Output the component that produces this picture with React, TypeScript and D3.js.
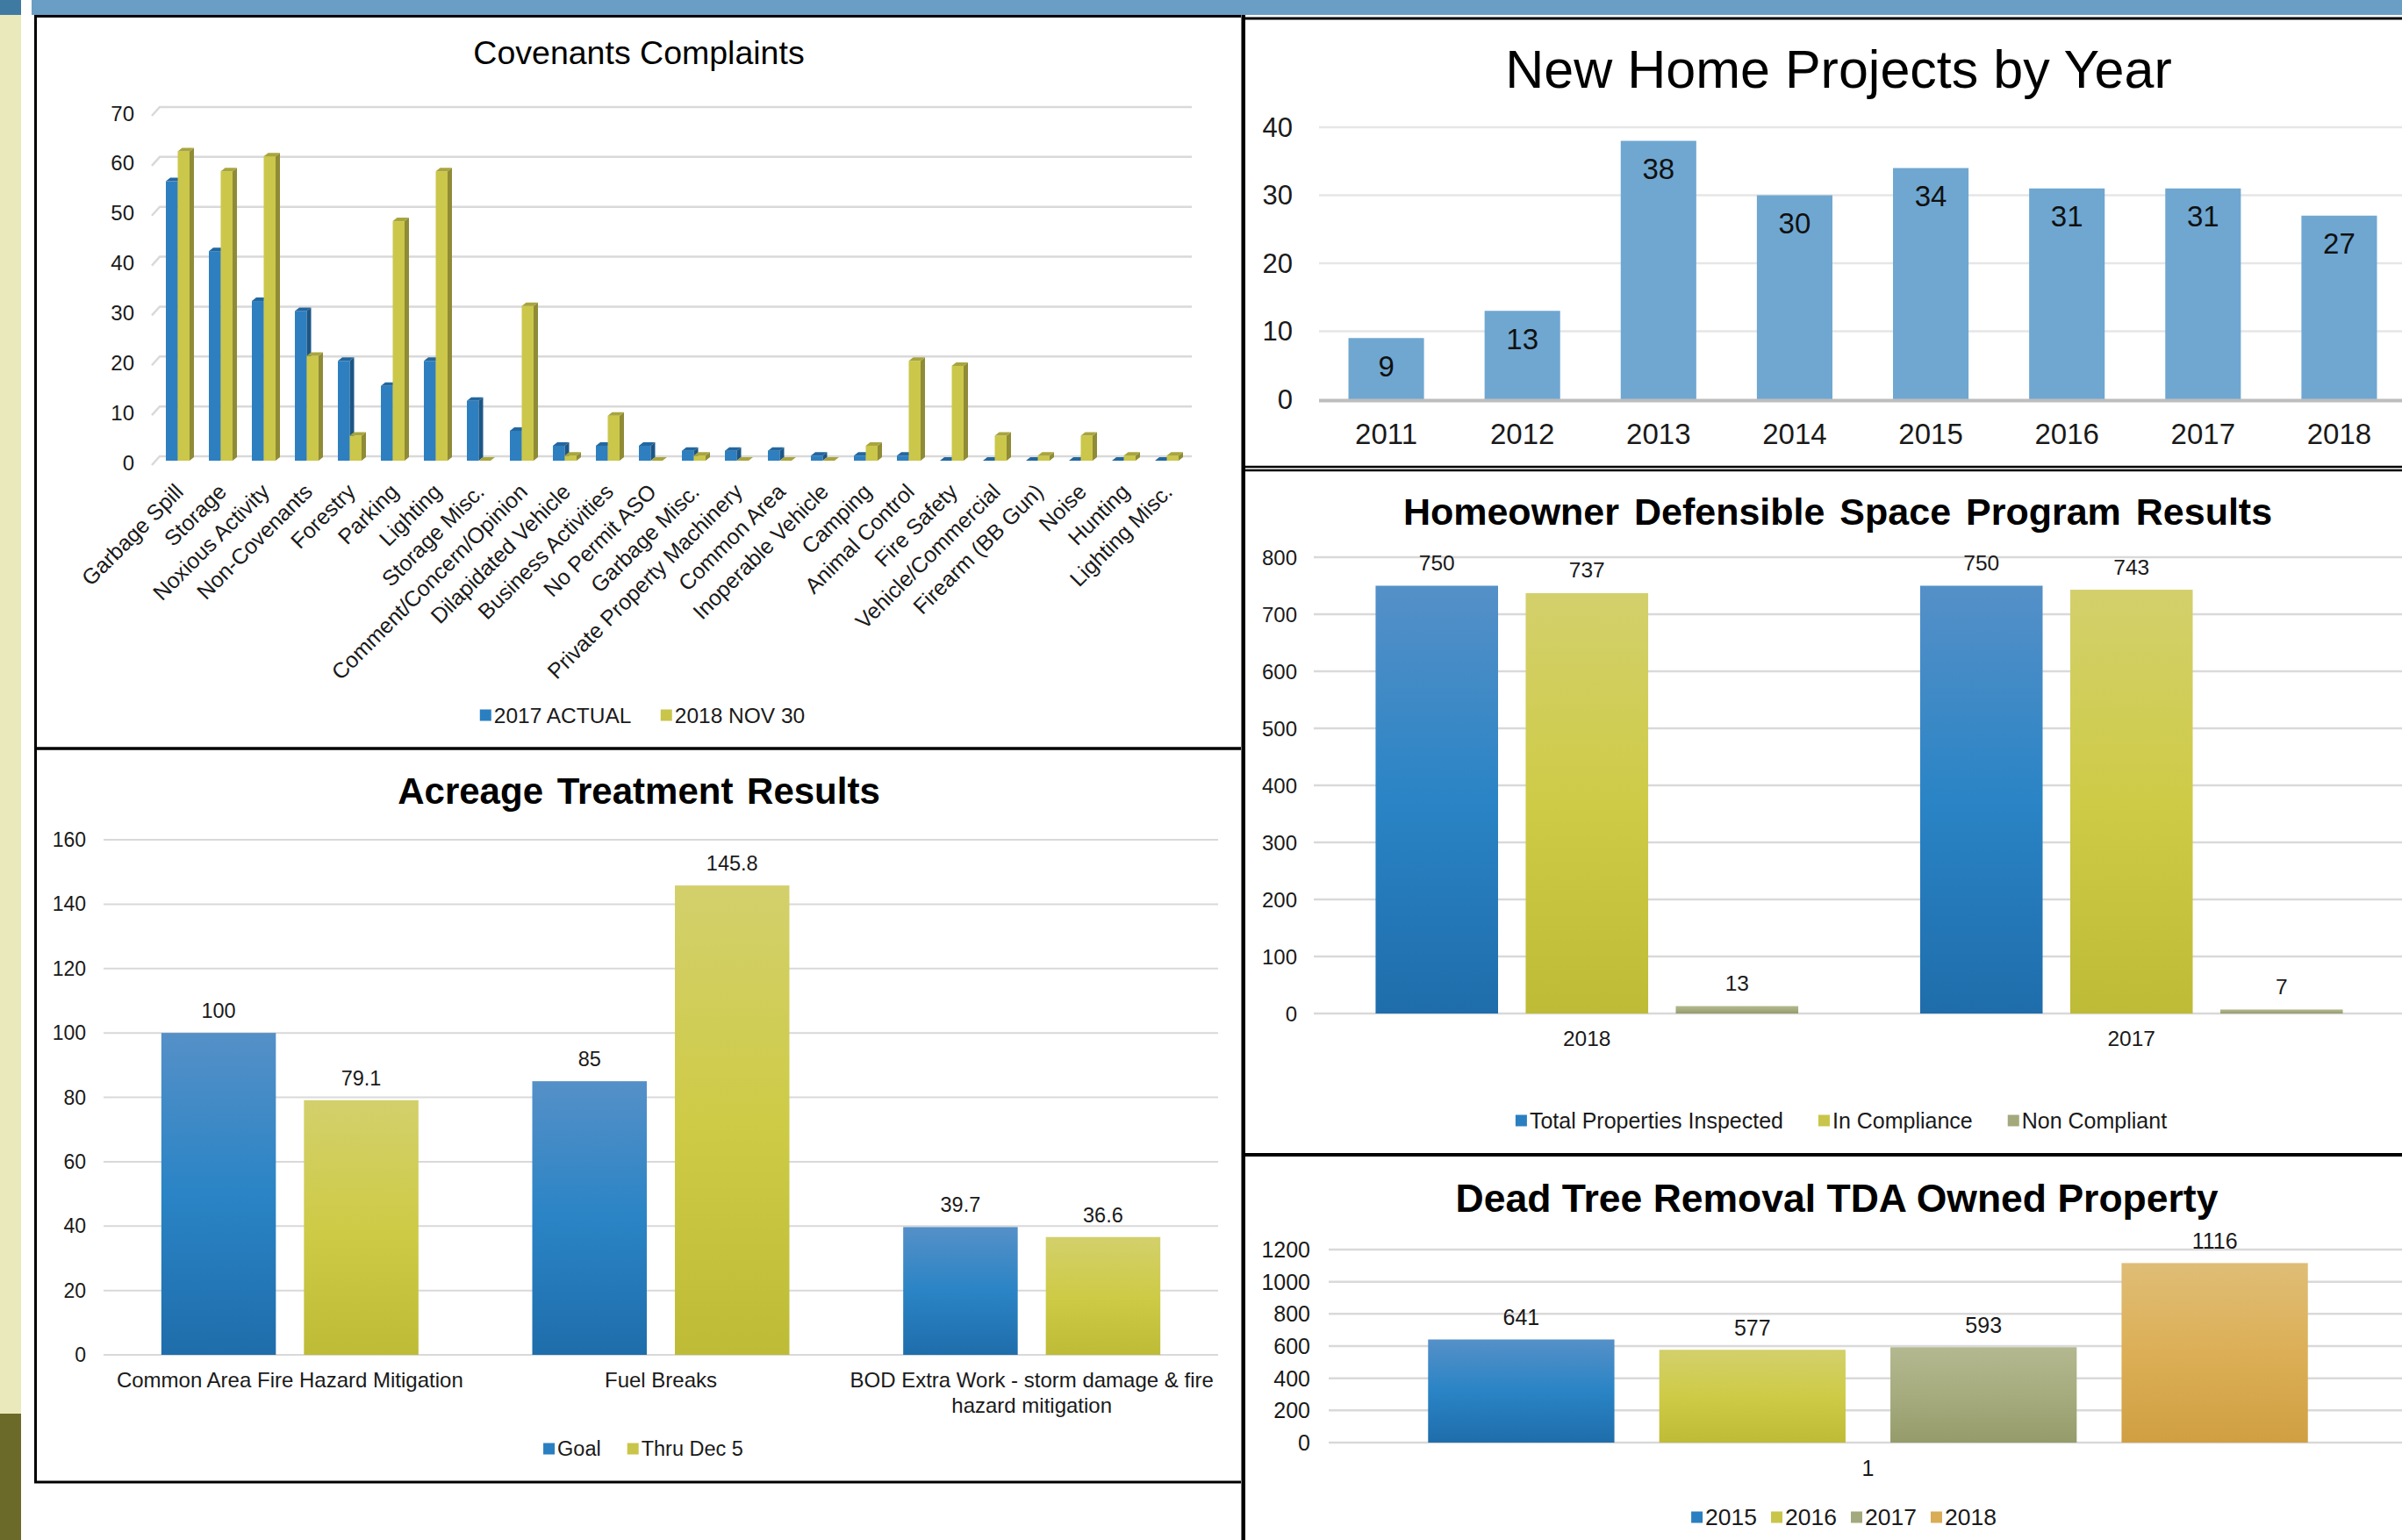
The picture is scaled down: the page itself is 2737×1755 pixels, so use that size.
import React from 'react';
import * as d3 from 'd3';

const FONT = '"Liberation Sans", Arial, Helvetica, sans-serif';

// ---------- Covenants Complaints ----------
const covCategories = [
  'Garbage Spill', 'Storage', 'Noxious Activity', 'Non-Covenants', 'Forestry', 'Parking', 'Lighting',
  'Storage Misc.', 'Comment/Concern/Opinion', 'Dilapidated Vehicle', 'Business Activities', 'No Permit ASO',
  'Garbage Misc.', 'Private Property Machinery', 'Common Area', 'Inoperable Vehicle', 'Camping',
  'Animal Control', 'Fire Safety', 'Vehicle/Commercial', 'Firearm (BB Gun)', 'Noise', 'Hunting', 'Lighting Misc.',
];
const cov2017 = [56, 42, 32, 30, 20, 15, 20, 12, 6, 3, 3, 3, 2, 2, 2, 1, 1, 1, 0, 0, 0, 0, 0, 0];
const cov2018 = [62, 58, 61, 21, 5, 48, 58, 0, 31, 1, 9, 0, 1, 0, 0, 0, 3, 20, 19, 5, 1, 5, 1, 1];
const covSeries = ['2017 ACTUAL', '2018 NOV 30'];
const covTicks = [0, 10, 20, 30, 40, 50, 60, 70];

// ---------- New Home Projects by Year ----------
const homeYears = ['2011', '2012', '2013', '2014', '2015', '2016', '2017', '2018'];
const homeValues = [9, 13, 38, 30, 34, 31, 31, 27];
const homeTicks = [0, 10, 20, 30, 40];

// ---------- Acreage Treatment Results ----------
const acreCategories = ['Common Area Fire Hazard Mitigation', 'Fuel Breaks', 'BOD Extra Work - storm damage & fire hazard mitigation'];
const acreGoal = [100, 85, 39.7];
const acreThru = [79.1, 145.8, 36.6];
const acreSeries = ['Goal', 'Thru Dec 5'];
const acreTicks = [0, 20, 40, 60, 80, 100, 120, 140, 160];

// ---------- Homeowner Defensible Space Program Results ----------
const dspCategories = ['2018', '2017'];
const dspTotal = [750, 750];
const dspCompliance = [737, 743];
const dspNon = [13, 7];
const dspSeries = ['Total Properties Inspected', 'In Compliance', 'Non Compliant'];
const dspTicks = [0, 100, 200, 300, 400, 500, 600, 700, 800];

// ---------- Dead Tree Removal TDA Owned Property ----------
const deadCategory = '1';
const deadSeries = ['2015', '2016', '2017', '2018'];
const deadValues = [641, 577, 593, 1116];
const deadTicks = [0, 200, 400, 600, 800, 1000, 1200];

// ---------- helpers ----------
let _ctx: CanvasRenderingContext2D | null = null;
function measure(text: string, size: number, weight = 'normal') {
  if (!_ctx) _ctx = document.createElement('canvas').getContext('2d');
  if (!_ctx) return text.length * size * 0.5;
  _ctx.font = `${weight} ${size}px ${FONT}`;
  return _ctx.measureText(text).width;
}
function wrap(text: string, size: number, maxW: number) {
  const words = text.split(' ');
  const lines: string[] = [];
  let cur = '';
  words.forEach((w) => {
    const t = cur ? cur + ' ' + w : w;
    if (measure(t, size) > maxW && cur) {
      lines.push(cur);
      cur = w;
    } else cur = t;
  });
  if (cur) lines.push(cur);
  return lines;
}

const C = {
  blue: '#2e7fbf', blueSide: '#1c5686', blueTop: '#23679f',
  yellow: '#cbc74b', yellowSide: '#8f8b36', yellowTop: '#a9a53d',
  grid: '#d9d9d9', text: '#1a1a1a',
  legBlue: '#2a7fc0', legYellow: '#c9c54a', legGrey: '#a3a97c', legOrange: '#d9ac55',
};

function Legend({ items, colors, cx, y, size = 23, gap = 30 }: { items: string[]; colors: string[]; cx: number; y: number; size?: number; gap?: number }) {
  const sq = 13;
  const widths = items.map((t) => measure(t, size));
  const total = widths.reduce((a, w) => a + sq + 3 + w, 0) + gap * (items.length - 1);
  let x = cx - total / 2;
  return (
    <g>
      {items.map((t, i) => {
        const x0 = x;
        x += sq + 3 + widths[i] + gap;
        return (
          <g key={t}>
            <rect x={x0} y={y - sq / 2} width={sq} height={sq} fill={colors[i]} />
            <text x={x0 + sq + 3} y={y} dominantBaseline="central" fontSize={size} fontFamily={FONT} fill={C.text}>{t}</text>
          </g>
        );
      })}
    </g>
  );
}

function Bar3D({ x, w, yTop, yBase, front, side, top }: { x: number; w: number; yTop: number; yBase: number; front: string; side: string; top: string }) {
  const d = 5, dy = 4;
  return (
    <g>
      <rect x={x} y={yTop} width={w} height={Math.max(0, yBase - yTop)} fill={front} />
      <polygon points={`${x + w},${yTop} ${x + w + d},${yTop - dy} ${x + w + d},${yBase - dy} ${x + w},${yBase}`} fill={side} />
      <polygon points={`${x},${yTop} ${x + d},${yTop - dy} ${x + w + d},${yTop - dy} ${x + w},${yTop}`} fill={top} />
    </g>
  );
}

// ---------- Covenants chart ----------
function Covenants() {
  const x = d3.scaleBand<string>().domain(covCategories).range([182, 1358]);
  const inner = d3.scaleBand<string>().domain(covSeries).range([7, 34]);
  const y = d3.scaleLinear().domain([0, 70]).range([525, 127]);
  const series = [cov2017, cov2018];
  return (
    <g>
      <text x={728} y={60} textAnchor="middle" dominantBaseline="central" fontSize={37.5} fontFamily={FONT} fill="#000">Covenants Complaints</text>
      {covTicks.map((t) => (
        <g key={t}>
          <polyline points={`173,${y(t) + 5} 182,${y(t) - 5} 1358,${y(t) - 5}`} fill="none" stroke={C.grid} strokeWidth={2.5} />
          <text x={153} y={y(t) + 2} textAnchor="end" dominantBaseline="central" fontSize={24} fontFamily={FONT} fill={C.text}>{t}</text>
        </g>
      ))}
      {covCategories.map((c, i) => (
        <g key={c}>
          {covSeries.map((s, k) => (
            <Bar3D key={s} x={(x(c) as number) + (inner(s) as number)} w={inner.bandwidth()} yTop={y(series[k][i])} yBase={y(0)}
              front={k === 0 ? C.blue : C.yellow} side={k === 0 ? C.blueSide : C.yellowSide} top={k === 0 ? C.blueTop : C.yellowTop} />
          ))}
        </g>
      ))}
      {covCategories.map((c) => {
        const cx = (x(c) as number) + 20.5 + 8;
        return (
          <text key={c} transform={`translate(${cx},562) rotate(-45)`} textAnchor="end" fontSize={25} fontFamily={FONT} fill={C.text}>{c}</text>
        );
      })}
      <Legend items={covSeries} colors={[C.legBlue, C.legYellow]} cx={732} y={815} size={24.5} gap={32} />
    </g>
  );
}

// ---------- New Home chart ----------
function NewHome() {
  const x = d3.scaleBand<string>().domain(homeYears).range([1502, 2743]).paddingInner(0.445).paddingOuter(0.2225);
  const y = d3.scaleLinear().domain([0, 40]).range([455, 145]);
  return (
    <g>
      <text x={2095} y={79} textAnchor="middle" dominantBaseline="central" fontSize={61} fontFamily={FONT} fill="#000">New Home Projects by Year</text>
      {homeTicks.map((t) => (
        <g key={t}>
          {t !== 0 && <line x1={1503} x2={2737} y1={y(t)} y2={y(t)} stroke="#e6e6e6" strokeWidth={2.5} />}
          <text x={1473} y={y(t)} textAnchor="end" dominantBaseline="central" fontSize={31} fontFamily={FONT} fill={C.text}>{t}</text>
        </g>
      ))}
      {homeYears.map((yr, i) => (
        <g key={yr}>
          <rect x={x(yr)} y={y(homeValues[i])} width={x.bandwidth()} height={y(0) - y(homeValues[i])} fill="#6fa7d1" />
          <text x={(x(yr) as number) + x.bandwidth() / 2} y={y(homeValues[i]) + 32} textAnchor="middle" dominantBaseline="central" fontSize={33} fontFamily={FONT} fill="#111">{homeValues[i]}</text>
          <text x={(x(yr) as number) + x.bandwidth() / 2} y={494} textAnchor="middle" dominantBaseline="central" fontSize={33} fontFamily={FONT} fill={C.text}>{yr}</text>
        </g>
      ))}
      <line x1={1503} x2={2737} y1={y(0) + 1.5} y2={y(0) + 1.5} stroke="#bdbdbd" strokeWidth={4} />
    </g>
  );
}

// ---------- Acreage chart ----------
function Acreage() {
  const x = d3.scaleBand<string>().domain(acreCategories).range([119, 1387]);
  const inner = d3.scaleBand<string>().domain(acreSeries).range([0, x.bandwidth()]).paddingInner(0.197).paddingOuter(0.399);
  const y = d3.scaleLinear().domain([0, 160]).range([1544, 957]);
  const series = [acreGoal, acreThru];
  const grads = ['url(#gBlue)', 'url(#gYellow)'];
  return (
    <g>
      <text x={728} y={901} textAnchor="middle" dominantBaseline="central" fontSize={42} fontWeight="bold" fontFamily={FONT} fill="#000" wordSpacing={4}>Acreage Treatment Results</text>
      {acreTicks.map((t) => (
        <g key={t}>
          <line x1={118} x2={1388} y1={y(t)} y2={y(t)} stroke={C.grid} strokeWidth={2} />
          <text x={98} y={y(t)} textAnchor="end" dominantBaseline="central" fontSize={23} fontFamily={FONT} fill={C.text}>{t}</text>
        </g>
      ))}
      {acreCategories.map((c, i) => {
        const lines = wrap(c, 24, x.bandwidth() - 2);
        return (
          <g key={c}>
            {acreSeries.map((s, k) => {
              const bx = (x(c) as number) + (inner(s) as number);
              const v = series[k][i];
              return (
                <g key={s}>
                  <rect x={bx} y={y(v)} width={inner.bandwidth()} height={y(0) - y(v)} fill={grads[k]} />
                  <text x={bx + inner.bandwidth() / 2} y={y(v) - 25} textAnchor="middle" dominantBaseline="central" fontSize={23.5} fontFamily={FONT} fill={C.text}>{v}</text>
                </g>
              );
            })}
            {lines.map((l, j) => (
              <text key={j} x={(x(c) as number) + x.bandwidth() / 2} y={1572 + j * 29} textAnchor="middle" dominantBaseline="central" fontSize={24} fontFamily={FONT} fill={C.text}>{l}</text>
            ))}
          </g>
        );
      })}
      <Legend items={acreSeries} colors={[C.legBlue, C.legYellow]} cx={733} y={1651} size={23.5} />
    </g>
  );
}

// ---------- Homeowner chart ----------
function Homeowner() {
  const x = d3.scaleBand<string>().domain(dspCategories).range([1498, 2739]);
  const inner = d3.scaleBand<string>().domain(dspSeries).range([0, x.bandwidth()]).paddingInner(0.184).paddingOuter(0.406);
  const y = d3.scaleLinear().domain([0, 800]).range([1155, 635]);
  const series = [dspTotal, dspCompliance, dspNon];
  const grads = ['url(#gBlue)', 'url(#gYellow)', 'url(#gGrey)'];
  return (
    <g>
      <text x={2094} y={583} textAnchor="middle" dominantBaseline="central" fontSize={43} fontWeight="bold" fontFamily={FONT} fill="#000" wordSpacing={5}>Homeowner Defensible Space Program Results</text>
      {dspTicks.map((t) => (
        <g key={t}>
          <line x1={1497} x2={2737} y1={y(t)} y2={y(t)} stroke={C.grid} strokeWidth={2.5} />
          <text x={1478} y={y(t)} textAnchor="end" dominantBaseline="central" fontSize={24} fontFamily={FONT} fill={C.text}>{t}</text>
        </g>
      ))}
      {dspCategories.map((c, i) => (
        <g key={c}>
          {dspSeries.map((s, k) => {
            const bx = (x(c) as number) + (inner(s) as number);
            const v = series[k][i];
            return (
              <g key={s}>
                <rect x={bx} y={y(v)} width={inner.bandwidth()} height={y(0) - y(v)} fill={grads[k]} />
                <text x={bx + inner.bandwidth() / 2} y={y(v) - 26} textAnchor="middle" dominantBaseline="central" fontSize={24.5} fontFamily={FONT} fill={C.text}>{v}</text>
              </g>
            );
          })}
          <text x={(x(c) as number) + x.bandwidth() / 2} y={1183} textAnchor="middle" dominantBaseline="central" fontSize={24.5} fontFamily={FONT} fill={C.text}>{c}</text>
        </g>
      ))}
      <Legend items={dspSeries} colors={[C.legBlue, C.legYellow, C.legGrey]} cx={2098} y={1277} size={25} gap={40} />
    </g>
  );
}

// ---------- Dead Tree chart ----------
function DeadTree() {
  const x = d3.scaleBand<string>().domain([deadCategory]).range([1514, 2743]);
  const inner = d3.scaleBand<string>().domain(deadSeries).range([0, x.bandwidth()]).paddingInner(0.194).paddingOuter(0.43);
  const y = d3.scaleLinear().domain([0, 1200]).range([1644, 1424]);
  const grads = ['url(#gBlue)', 'url(#gYellow)', 'url(#gGrey)', 'url(#gOrange)'];
  return (
    <g>
      <text x={2093} y={1365} textAnchor="middle" dominantBaseline="central" fontSize={44.5} fontWeight="bold" fontFamily={FONT} fill="#000">Dead Tree Removal TDA Owned Property</text>
      {deadTicks.map((t) => (
        <g key={t}>
          <line x1={1514} x2={2737} y1={y(t)} y2={y(t)} stroke={C.grid} strokeWidth={2.5} />
          <text x={1493} y={y(t)} textAnchor="end" dominantBaseline="central" fontSize={25} fontFamily={FONT} fill={C.text}>{t}</text>
        </g>
      ))}
      {deadSeries.map((s, k) => {
        const bx = (x(deadCategory) as number) + (inner(s) as number);
        const v = deadValues[k];
        return (
          <g key={s}>
            <rect x={bx} y={y(v)} width={inner.bandwidth()} height={y(0) - y(v)} fill={grads[k]} />
            <text x={bx + inner.bandwidth() / 2} y={y(v) - 25} textAnchor="middle" dominantBaseline="central" fontSize={25} fontFamily={FONT} fill={C.text}>{v}</text>
          </g>
        );
      })}
      <text x={(x(deadCategory) as number) + x.bandwidth() / 2} y={1673} textAnchor="middle" dominantBaseline="central" fontSize={25} fontFamily={FONT} fill={C.text}>{deadCategory}</text>
      <Legend items={deadSeries} colors={[C.legBlue, C.legYellow, C.legGrey, C.legOrange]} cx={2101} y={1729} size={26.5} gap={16} />
    </g>
  );
}

function Grad({ id, stops }: { id: string; stops: string[] }) {
  return (
    <linearGradient id={id} x1="0" y1="0" x2="0" y2="1">
      {stops.map((c, i) => (
        <stop key={i} offset={`${(i / (stops.length - 1)) * 100}%`} stopColor={c} />
      ))}
    </linearGradient>
  );
}

export default function App() {
  return (
    <div style={{ position: 'absolute', left: 0, top: 0, width: 2737, height: 1755, background: '#fff' }}>
      <svg width={2737} height={1755} style={{ display: 'block' }}>
        <defs>
          <Grad id="gBlue" stops={['#5590c8', '#2a84c5', '#1f6dab']} />
          <Grad id="gYellow" stops={['#d3d06c', '#cecb47', '#bebb37']} />
          <Grad id="gGrey" stops={['#b4b88f', '#a6ac7e', '#959b6a']} />
          <Grad id="gOrange" stops={['#dfbd76', '#dcaf56', '#d09f42']} />
        </defs>
        <rect x={0} y={0} width={2737} height={1755} fill="#fff" />
        {/* frame decorations */}
        <rect x={0} y={0} width={24} height={17} fill="#3f7aa3" />
        <rect x={36} y={0} width={2701} height={17} fill="#6a9ec5" />
        <rect x={0} y={17} width={24} height={1594} fill="#e9e9bb" />
        <rect x={0} y={1611} width={24} height={144} fill="#6c6a28" />

        <Covenants />
        <Acreage />
        <NewHome />
        <Homeowner />
        <DeadTree />

        {/* panel borders */}
        <g stroke="#000" fill="none">
          <line x1={40.5} x2={40.5} y1={17} y2={1690} strokeWidth={3} />
          <line x1={39} x2={1418} y1={18.5} y2={18.5} strokeWidth={3} />
          <line x1={39} x2={1418} y1={853} y2={853} strokeWidth={3.5} />
          <line x1={39} x2={1418} y1={1689} y2={1689} strokeWidth={3} />
          <line x1={1417} x2={1417} y1={17} y2={1755} strokeWidth={4} />
          <line x1={1417} x2={2737} y1={21} y2={21} strokeWidth={3} />
          <line x1={1417} x2={2737} y1={532} y2={532} strokeWidth={2.5} />
          <line x1={1417} x2={2737} y1={536} y2={536} strokeWidth={2.5} />
          <line x1={1417} x2={2737} y1={1316} y2={1316} strokeWidth={4} />
        </g>
        <line x1={1414.5} x2={1414.5} y1={17} y2={1755} stroke="#777" strokeWidth={1} />
      </svg>
    </div>
  );
}
